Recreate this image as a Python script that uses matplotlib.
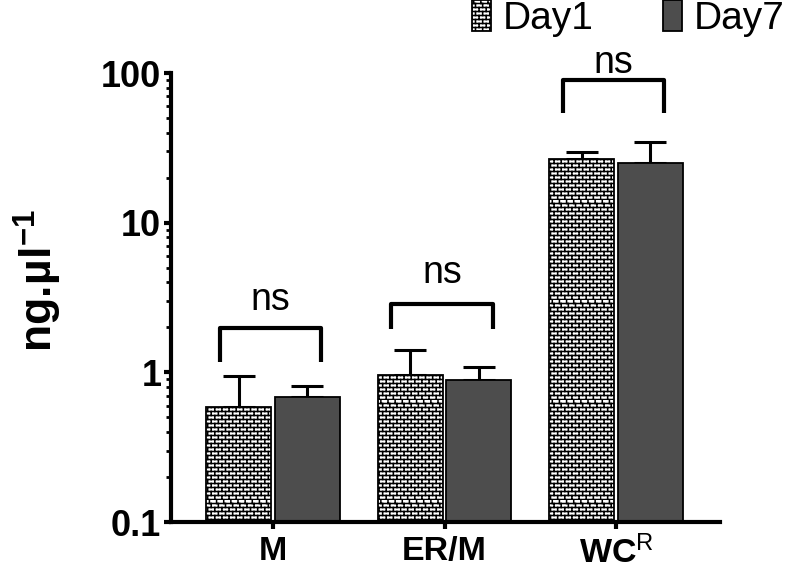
import warnings
import numpy as np
import matplotlib
matplotlib.use('Agg')
import matplotlib.pyplot as plt
import matplotlib.hatch as mhatch
from matplotlib.path import Path
from matplotlib.ticker import LogLocator, NullFormatter, FuncFormatter

warnings.filterwarnings('ignore')

# values
groups = ['M', 'ER/M', r'$\mathbf{WC}^{\mathrm{R}}$']
day1 = [0.585, 0.955, 26.6]
day1_err = [0.355, 0.445, 3.1]
day7 = [0.681, 0.884, 25.2]
day7_err = [0.126, 0.196, 9.6]
series_names = ['Day1', 'Day7']

# significance brackets (leg bottom, bracket top, label baseline) per group
bracket_low = [1.166, 1.935, 54.1]
bracket_high = [1.965, 2.84, 89.8]
sig_y = [2.59, 3.98, 100.0]
sig_labels = ['ns', 'ns', 'ns']


class BrickHatch(mhatch.HatchPatternBase):
    # brick wall hatch: 25 rows of bricks per hatch tile
    def __init__(self, hatch, density):
        n = hatch.count('b')
        self.rows = 25 * n
        self.cols = 14 * n
        self.num_vertices = 2 * self.rows + 2 * self.rows * self.cols

    def set_vertices_and_codes(self, vertices, codes):
        k = 0
        half_px = 0.005
        for i in range(self.rows):
            y0 = i / self.rows + half_px
            y1 = (i + 1) / self.rows + half_px
            vertices[k] = (0, y0)
            vertices[k + 1] = (1, y0)
            codes[k] = Path.MOVETO
            codes[k + 1] = Path.LINETO
            k += 2
            # odd row count: soften the seam row
            shift = 0.25 if i == self.rows - 1 else 0.5 * (i % 2)
            for j in range(self.cols):
                xv = (j + shift) / self.cols + half_px
                vertices[k] = (xv, y0)
                vertices[k + 1] = (xv, y1)
                codes[k] = Path.MOVETO
                codes[k + 1] = Path.LINETO
                k += 2


mhatch._hatch_types.append(BrickHatch)

plt.rcParams['font.family'] = ['Liberation Sans', 'DejaVu Sans']
plt.rcParams['mathtext.fontset'] = 'custom'
plt.rcParams['mathtext.rm'] = 'Liberation Sans'
plt.rcParams['mathtext.bf'] = 'Liberation Sans:bold'
plt.rcParams['mathtext.it'] = 'Liberation Sans:italic'
plt.rcParams['hatch.linewidth'] = 1.1

fig = plt.figure(figsize=(7.87, 5.70), dpi=100)
ax = fig.add_axes([0.2173, 0.0842, 0.6976, 0.7877])

x = np.arange(len(groups))
w = 0.378
off = 0.2

b1 = ax.bar(x - off, day1, w, color='white', edgecolor='black', linewidth=1.3,
            hatch='b', label=series_names[0], zorder=2)
b2 = ax.bar(x + off, day7, w, color='#4d4d4d', edgecolor='black', linewidth=1.3,
            label=series_names[1], zorder=2)

for xs, ys, es in [(x - off, day1, day1_err), (x + off, day7, day7_err)]:
    ax.errorbar(xs, ys, yerr=[np.zeros(len(es)), es], fmt='none', ecolor='black',
                elinewidth=2.2, capsize=11.5, capthick=2.2, zorder=1)

for i in range(len(groups)):
    xl, xr = x[i] - 0.31, x[i] + 0.28
    ax.plot([xl, xl, xr, xr],
            [bracket_low[i], bracket_high[i], bracket_high[i], bracket_low[i]],
            color='black', lw=3, solid_joinstyle='round', solid_capstyle='butt',
            clip_on=False, zorder=3)
    ax.text((xl + xr) / 2, sig_y[i], sig_labels[i], ha='center',
            va='baseline', fontsize=27, clip_on=False)

ax.set_yscale('log')
ax.set_ylim(0.1, 100)
ax.set_xlim(-0.595, 2.606)
ax.yaxis.set_major_locator(LogLocator(base=10, numticks=10))
ax.yaxis.set_minor_locator(LogLocator(base=10, subs=np.arange(2, 10), numticks=10))
ax.yaxis.set_minor_formatter(NullFormatter())
ax.yaxis.set_major_formatter(FuncFormatter(lambda v, p: f'{v:g}'))

ax.set_xticks(x)
ax.set_xticklabels(groups, fontsize=24.5, fontweight='bold')
for lab in ax.get_yticklabels():
    lab.set_fontweight('bold')
ax.tick_params(axis='y', which='major', labelsize=26, length=5, width=3, pad=2)
ax.tick_params(axis='y', which='minor', length=3.5, width=2)
ax.tick_params(axis='x', length=5, width=3, pad=5)

for s in ['top', 'right']:
    ax.spines[s].set_visible(False)
for s in ['left', 'bottom']:
    ax.spines[s].set_linewidth(3)

ax.set_ylabel(r'$\mathbf{ng.\!µl}^{\mathbf{-1}}$', fontsize=32)
ax.yaxis.set_label_coords(-0.195, 0.539)

fig.legend(handles=[b1, b2], loc='upper right', bbox_to_anchor=(0.997, 1.0),
           ncol=2, frameon=False, fontsize=28, handlelength=0.48,
           handleheight=0.85, handletextpad=0.3, columnspacing=1.8,
           borderpad=0.0, borderaxespad=0.0)

fig.savefig('out.png', dpi=100)
